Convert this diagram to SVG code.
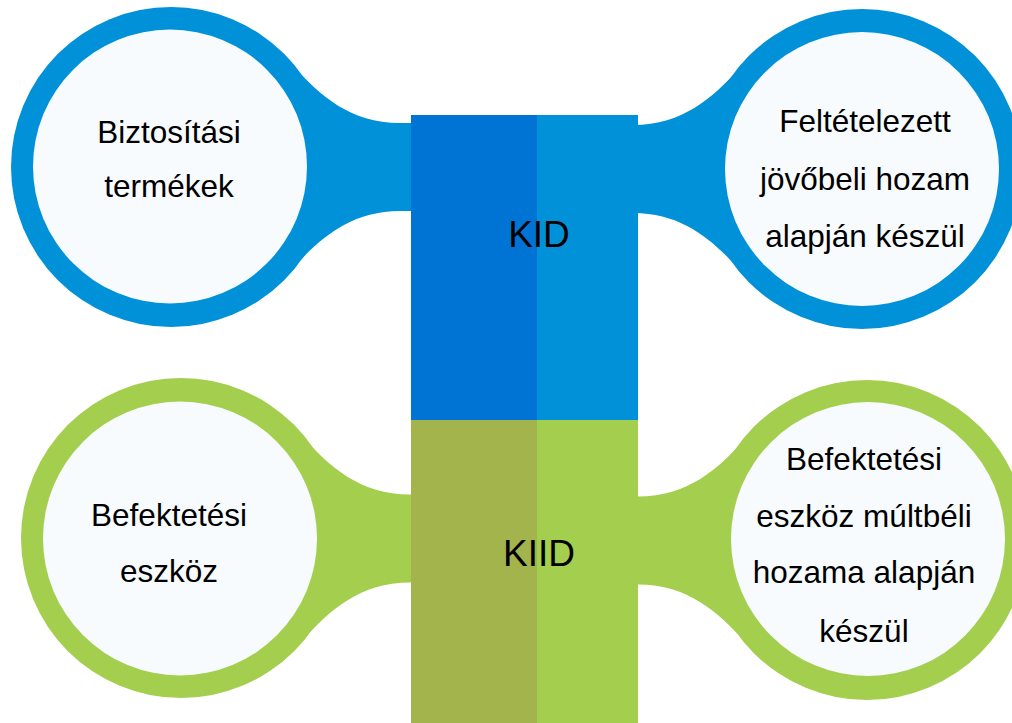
<svg xmlns="http://www.w3.org/2000/svg" width="1012" height="723" viewBox="0 0 1012 723">
<style>
.blue{fill:#0091D8}
.green{fill:#A4CF4E}
.inner{fill:#F7FBFE}
.lbl{font-family:"Liberation Sans",Arial,sans-serif;font-size:31.5px;fill:#000;text-anchor:middle}
.big{font-family:"Liberation Sans",Arial,sans-serif;font-size:37px;fill:#000;text-anchor:middle}
</style>
<defs>
<path id="neck" d="M124,-99 C149,-72 179,-44 229,-44 L262,-44 L262,44 L229,44 C179,44 149,72 124,99 L0,0 Z"/>
</defs>
<rect width="1012" height="723" fill="#fff"/>
<g id="connectors">
<use href="#neck" class="blue" transform="translate(171,167)"/>
<use href="#neck" class="blue" transform="translate(862,169) scale(-1,1)"/>
<use href="#neck" class="green" transform="translate(181,538.5)"/>
<use href="#neck" class="green" transform="translate(867,540.5) scale(-1,1)"/>
</g>
<g id="kid">
<rect x="411" y="115" width="126" height="305" fill="#0074D4"/>
<rect x="537" y="115" width="101" height="305" fill="#0091D8"/>
<text class="big" x="539" y="247">KID</text>
</g>
<g id="kiid">
<rect x="411" y="420" width="126" height="303" fill="#A4B44C"/>
<rect x="537" y="420" width="101" height="303" fill="#A4CF4E"/>
<text class="big" x="539" y="566">KIID</text>
</g>
<g id="node-tl">
<circle class="blue" cx="171" cy="167" r="160"/>
<circle class="inner" cx="170" cy="166.5" r="137"/>
<text class="lbl" x="169" y="143">Biztosítási</text>
<text class="lbl" x="169" y="197">termékek</text>
</g>
<g id="node-tr">
<circle class="blue" cx="862" cy="169" r="160"/>
<circle class="inner" cx="862" cy="169" r="137"/>
<text class="lbl" x="865" y="132">Feltételezett</text>
<text class="lbl" x="865" y="190">jövőbeli hozam</text>
<text class="lbl" x="865" y="247">alapján készül</text>
</g>
<g id="node-bl">
<circle class="green" cx="181" cy="538" r="160"/>
<circle class="inner" cx="180" cy="538.5" r="137"/>
<text class="lbl" x="169" y="526">Befektetési</text>
<text class="lbl" x="169" y="582">eszköz</text>
</g>
<g id="node-br">
<circle class="green" cx="867" cy="540" r="160"/>
<circle class="inner" cx="868" cy="539" r="137"/>
<text class="lbl" x="864" y="470">Befektetési</text>
<text class="lbl" x="864" y="527">eszköz múltbéli</text>
<text class="lbl" x="864" y="583">hozama alapján</text>
<text class="lbl" x="864" y="642">készül</text>
</g>
</svg>
